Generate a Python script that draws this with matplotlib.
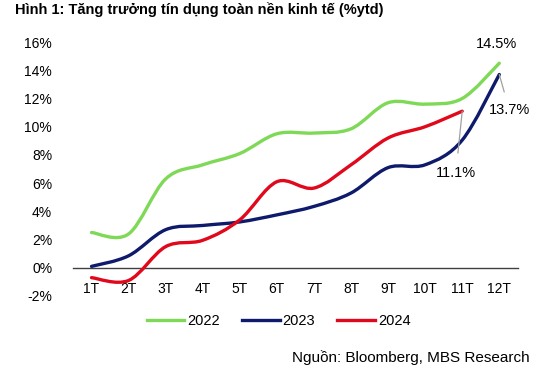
import matplotlib
matplotlib.use("Agg")
import matplotlib.pyplot as plt
from matplotlib.path import Path
from matplotlib.patches import PathPatch
from matplotlib.lines import Line2D
import numpy as np

plt.rcParams['font.family'] = ['Liberation Sans', 'DejaVu Sans']

months = ["1T", "2T", "3T", "4T", "5T", "6T", "7T", "8T", "9T", "10T", "11T", "12T"]
s2022 = [2.5, 2.4, 6.3, 7.3, 8.1, 9.5, 9.55, 9.85, 11.7, 11.6, 12.0, 14.5]
s2023 = [0.1, 0.85, 2.7, 3.0, 3.25, 3.75, 4.35, 5.3, 7.1, 7.3, 9.05, 13.7]
s2024 = [-0.7, -0.9, 1.5, 1.95, 3.4, 6.1, 5.65, 7.3, 9.2, 10.0, 11.1]
yticks = [-2, 0, 2, 4, 6, 8, 10, 12, 14, 16]

c2022 = "#7ED957"
c2023 = "#0E1A6B"
c2024 = "#E0081A"

fig = plt.figure(figsize=(5.55, 3.79), dpi=100)
ax = fig.add_axes([0.1315, 0.219, 0.8015, 0.67])


def smooth_path(xs, ys):
    pts = np.column_stack([xs, ys]).astype(float)
    n = len(pts)
    verts = [pts[0]]
    codes = [Path.MOVETO]
    for i in range(n - 1):
        p0 = pts[i - 1] if i > 0 else pts[i]
        p1 = pts[i]
        p2 = pts[i + 1]
        p3 = pts[i + 2] if i + 2 < n else pts[i + 1]
        c1 = p1 + (p2 - p0) / 6.0
        c2 = p2 - (p3 - p1) / 6.0
        verts += [c1, c2, p2]
        codes += [Path.CURVE4] * 3
    return Path(verts, codes)


for vals, col in [(s2022, c2022), (s2023, c2023), (s2024, c2024)]:
    xs = np.arange(1, len(vals) + 1)
    ax.add_patch(PathPatch(smooth_path(xs, vals), fill=False, edgecolor=col,
                           lw=2.4, capstyle='round', joinstyle='round', zorder=3))

ax.set_xlim(0.5, 12.5)
ax.set_ylim(-2, 16)
ax.set_xticks(range(1, 13))
ax.set_xticklabels(months, fontsize=10)
ax.set_yticks(yticks)
ax.set_yticklabels([f"{v}%" for v in yticks], fontsize=10)
for s in ["top", "right", "left"]:
    ax.spines[s].set_visible(False)
ax.spines["bottom"].set_position(("data", 0))
ax.spines["bottom"].set_color("#404040")
ax.spines["bottom"].set_linewidth(1.0)
ax.tick_params(axis="x", length=0, pad=10)
ax.tick_params(axis="y", length=0, pad=15)
for lab in ax.get_yticklabels():
    lab.set_horizontalalignment("right")

# data labels
ax.annotate("14.5%", xy=(12, s2022[11]), xytext=(11.93, 15.85), ha="center", va="center", fontsize=10.5)
ax.annotate("13.7%", xy=(12, s2023[11]), xytext=(12.27, 11.2), ha="center", va="center", fontsize=10.5,
            arrowprops=dict(arrowstyle="-", color="#A0A0A0", lw=0.9, shrinkA=6, shrinkB=0))
ax.annotate("11.1%", xy=(11, s2024[10]), xytext=(10.83, 6.75), ha="center", va="center", fontsize=10.5,
            arrowprops=dict(arrowstyle="-", color="#A0A0A0", lw=0.9, shrinkA=7, shrinkB=0))

handles = [Line2D([], [], color=c2022, lw=2.4),
           Line2D([], [], color=c2023, lw=2.4),
           Line2D([], [], color=c2024, lw=2.4)]
fig.legend(handles, ["2022", "2023", "2024"], loc="center", bbox_to_anchor=(0.502, 0.153),
           ncol=3, frameon=False, fontsize=10.5, handlelength=2.6, handletextpad=0.2,
           columnspacing=1.5)

fig.text(0.027, 0.974, "Hình 1: Tăng trưởng tín dụng toàn nền kinh tế (%ytd)", fontsize=10.5,
         fontweight="bold", ha="left", va="center")
fig.text(0.955, 0.056, "Nguồn: Bloomberg, MBS Research", fontsize=11, ha="right", va="center")

fig.savefig("out.png", dpi=100)
